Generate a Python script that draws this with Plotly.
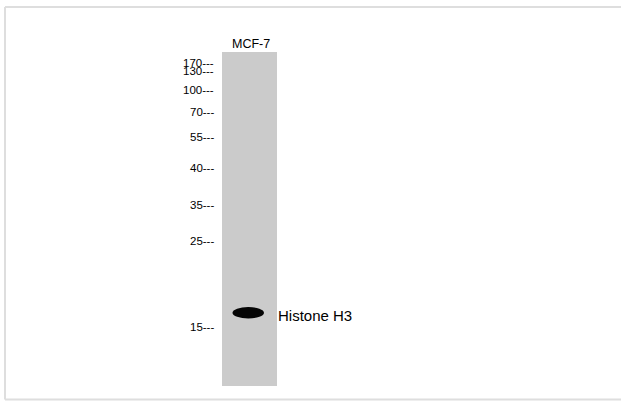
import plotly.graph_objects as go

# ---- data read from the blot ----
lane_names = ["MCF-7"]
marker_kda = ["170", "130", "100", "70", "55", "40", "35", "25", "15"]
marker_migration = [62.5, 70.5, 90, 111.5, 137, 167.5, 204.5, 240.5, 326.5]  # migration distance (image px)
lane_top = [52]
lane_bottom = [386]
band_name = ["Histone H3"]
band_migration = [313]

W, H = 621, 403
LANE_X = 249.5
LANE_W = 55

fig = go.Figure()

# lane
fig.add_trace(go.Bar(
    x=[LANE_X], y=[lane_bottom[0] - lane_top[0]], base=[lane_top[0]],
    width=[LANE_W], marker=dict(color="#cbcbcb", line=dict(width=0)),
    hoverinfo="skip", showlegend=False))

fam = "Liberation Sans Narrow, Liberation Sans, Arial"
font = dict(family=fam, size=11.5, color="#000000")

# marker labels
for lab, y in zip(marker_kda, marker_migration):
    fig.add_annotation(x=216, y=y, xref="x", yref="y", text=lab + "---",
                       showarrow=False, xanchor="right", yanchor="middle", font=font)

# lane label
fig.add_annotation(x=250.5, y=43.5, xref="x", yref="y", text=lane_names[0],
                   showarrow=False, xanchor="center", yanchor="middle",
                   font=dict(family=fam, size=12.5, color="#000000"))

# band
for y in band_migration:
    fig.add_shape(type="circle", xref="x", yref="y", x0=232.5, x1=264, y0=y - 6, y1=y + 5.5,
                  fillcolor="#050505", line=dict(width=0))
    fig.add_annotation(x=276, y=y + 2, xref="x", yref="y", text=band_name[0],
                       showarrow=False, xanchor="left", yanchor="middle",
                       font=dict(family=fam, size=15, color="#000000"))

# frame (left, top, bottom edges)
frame = dict(color="#dedede", width=2)
fig.add_shape(type="line", xref="x", yref="y", x0=5, x1=5, y0=7, y1=399.5, line=frame)
fig.add_shape(type="line", xref="x", yref="y", x0=5, x1=W, y0=7, y1=7, line=frame)
fig.add_shape(type="line", xref="x", yref="y", x0=5, x1=W, y0=399.5, y1=399.5, line=frame)

fig.update_layout(
    width=W, height=H, margin=dict(l=0, r=0, t=0, b=0),
    paper_bgcolor="white", plot_bgcolor="white", bargap=0,
    xaxis=dict(range=[0, W], visible=False, fixedrange=True),
    yaxis=dict(range=[H, 0], visible=False, fixedrange=True),
)
fig.write_html("out.html", config={"displayModeBar": False, "staticPlot": True},
               post_script="document.body.style.margin='0';document.body.style.overflow='hidden';")
